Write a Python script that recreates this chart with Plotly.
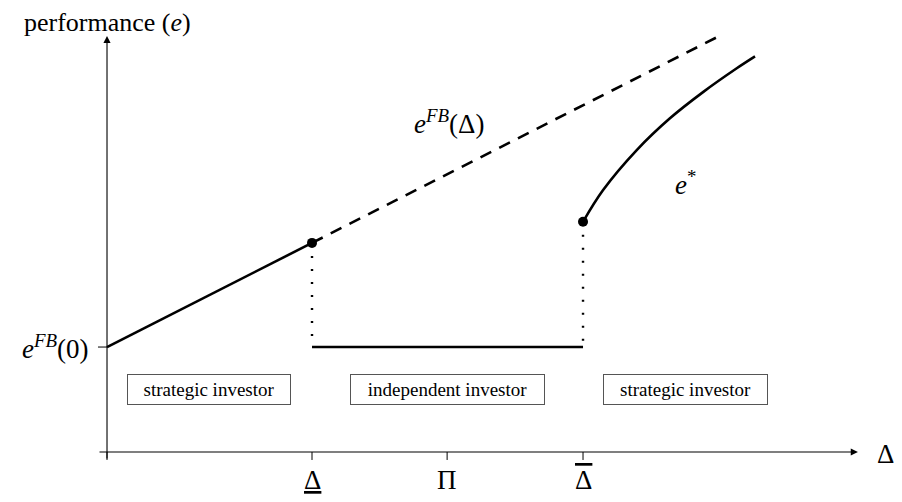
import plotly.graph_objects as go

# first-best effort e^FB(Delta): solid up to the lower threshold, dashed beyond
fb_solid_x = [0, 10.0]
fb_solid_y = [5.12, 10.2]
fb_dash_x = [10.0, 30.0]
fb_dash_y = [10.2, 20.36]

# independent investor region: flat at e^FB(0)
indep_x = [10.0, 23.22]
indep_y = [5.12, 5.12]

# equilibrium effort e* in the upper strategic region
estar_x = [23.22, 24.20, 25.84, 27.46, 29.09, 30.72, 31.61]
estar_y = [11.23, 12.78, 14.73, 16.28, 17.57, 18.72, 19.30]

# jump points
kink_x = [10.0, 23.22]
kink_y = [10.2, 11.23]

# axis ticks
xtick_vals = [0, 10.0, 16.59, 23.22]
xtick_text = ['', '<u>Δ</u>', 'Π', '<span style="text-decoration:overline">Δ</span>']
ytick_vals = [5.12]
ytick_text = ['<i>e</i><sup><i>FB</i></sup>(0)']

regions = ['strategic investor', 'independent investor', 'strategic investor']
region_x = [4.98, 16.61, 28.22]
region_w = [162, 193, 163]

FONT = 'Liberation Serif'
BLACK = '#000000'

fig = go.Figure()

line = dict(color=BLACK, width=2.6)
fig.add_trace(go.Scatter(x=fb_solid_x, y=fb_solid_y, mode='lines', line=line))
fig.add_trace(go.Scatter(x=fb_dash_x, y=fb_dash_y, mode='lines',
                         line=dict(color=BLACK, width=2.6, dash='12px,9px')))
fig.add_trace(go.Scatter(x=indep_x, y=indep_y, mode='lines', line=line))
fig.add_trace(go.Scatter(x=estar_x, y=estar_y, mode='lines',
                         line=dict(color=BLACK, width=2.6, shape='spline', smoothing=1.0)))

# dotted drops from the jump points
for kx, ky in zip(kink_x, kink_y):
    fig.add_trace(go.Scatter(x=[kx, kx], y=[ky, indep_y[0]], mode='lines',
                             line=dict(color=BLACK, width=2.4, dash='2px,11px')))

fig.add_trace(go.Scatter(x=kink_x, y=kink_y, mode='markers', marker=dict(color=BLACK, size=10)))

# axes with arrows
ax_kw = dict(xref='x', yref='y', axref='x', ayref='y', text='', showarrow=True,
             arrowhead=2, arrowsize=1.3, arrowwidth=1.1, arrowcolor=BLACK)
fig.add_annotation(x=36.63, y=0, ax=-0.44, ay=0, **ax_kw)
fig.add_annotation(x=0, y=20.3, ax=0, ay=-0.39, **ax_kw)

# tick marks
for tv in xtick_vals:
    fig.add_shape(type='line', x0=tv, x1=tv, y0=0, y1=-0.39, line=dict(color=BLACK, width=1))
for tv in ytick_vals:
    fig.add_shape(type='line', x0=-0.44, x1=0, y0=tv, y1=tv, line=dict(color=BLACK, width=1))

for tv, tt in zip(xtick_vals, xtick_text):
    if tt:
        fig.add_annotation(x=tv, y=-0.55, text=tt, showarrow=False, yanchor='top',
                           font=dict(family=FONT, size=27, color=BLACK))
for tv, tt in zip(ytick_vals, ytick_text):
    fig.add_annotation(x=-0.8, y=tv, text=tt, showarrow=False, xanchor='right',
                       font=dict(family=FONT, size=27, color=BLACK))

fig.add_annotation(x=38.5, y=-0.1, text='Δ', showarrow=False, xanchor='right',
                   font=dict(family=FONT, size=27, color=BLACK))
fig.add_annotation(x=0, y=20.95, text='performance (<i>e</i>)', showarrow=False,
                   font=dict(family=FONT, size=26, color=BLACK))

fig.add_annotation(x=16.7, y=16.1, text='<i>e</i><sup><i>FB</i></sup>(Δ)', showarrow=False,
                   font=dict(family=FONT, size=27, color=BLACK))
fig.add_annotation(x=28.2, y=13.1, text='<i>e</i><sup>*</sup>', showarrow=False,
                   font=dict(family=FONT, size=27, color=BLACK))

for name, rx, rw in zip(regions, region_x, region_w):
    fig.add_annotation(x=rx, y=3.05, text=name, showarrow=False, width=rw, height=29,
                       bordercolor='#555555', borderwidth=1, borderpad=0, bgcolor='white',
                       font=dict(family=FONT, size=19, color=BLACK))

# the page body has an 8px margin, so the figure is 8px smaller and the
# ranges start where the page edge would be
fig.update_layout(
    width=894, height=494,
    margin=dict(l=0, r=0, t=0, b=0),
    paper_bgcolor='white', plot_bgcolor='white',
    showlegend=False, hovermode=False,
    xaxis=dict(range=[-4.83, 38.78], visible=False, fixedrange=True),
    yaxis=dict(range=[-2.44, 21.66], visible=False, fixedrange=True),
)

fig.write_html("out.html")
